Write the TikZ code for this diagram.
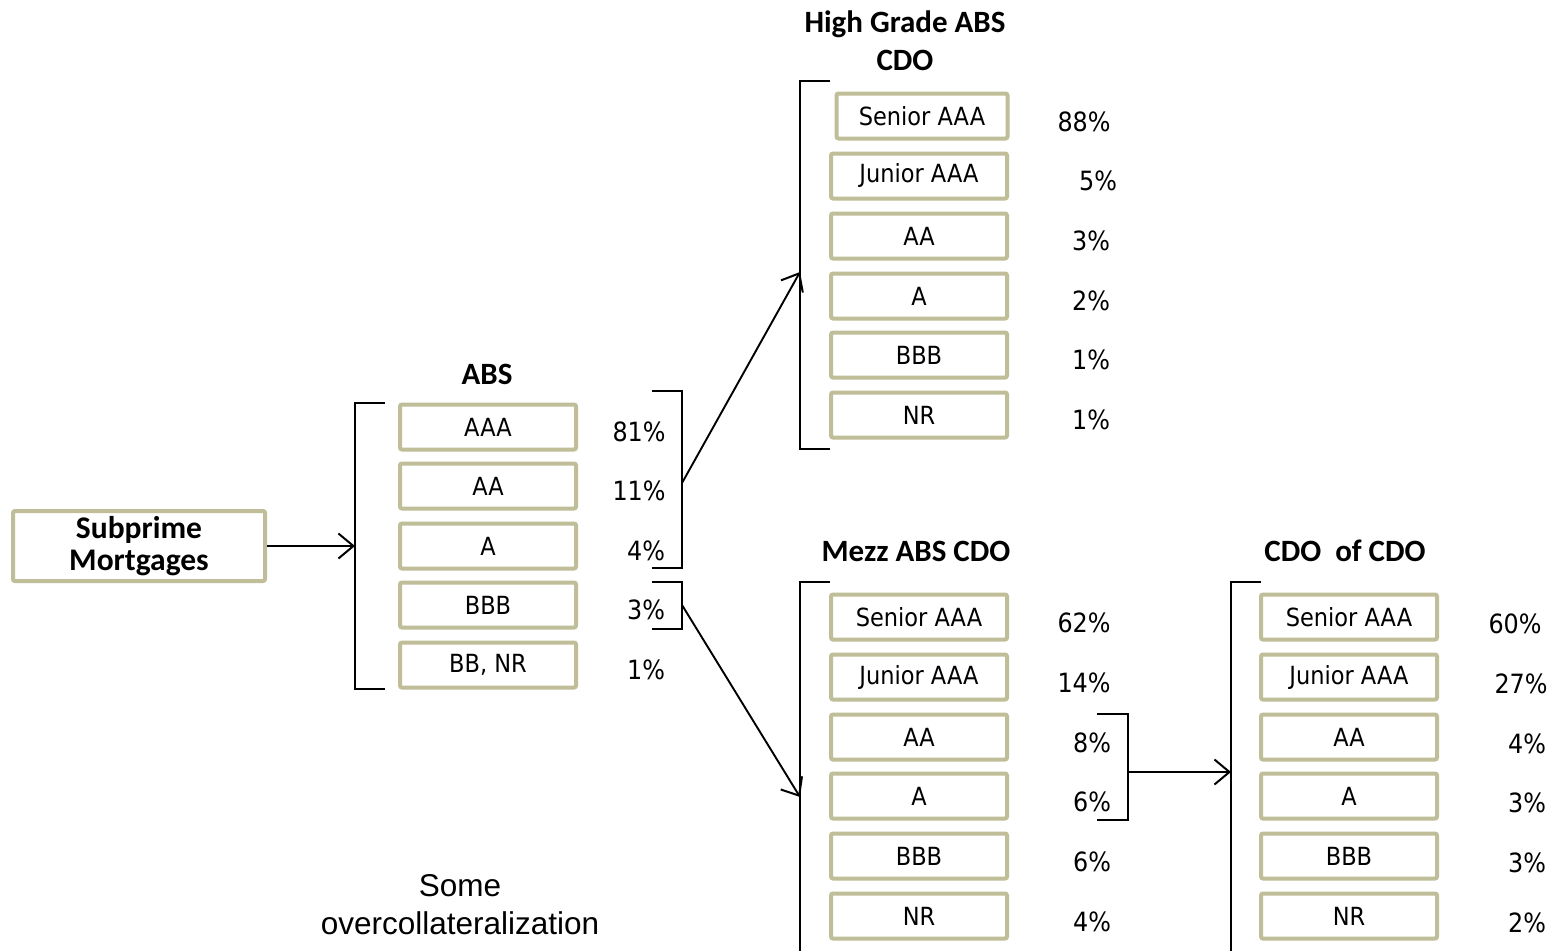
\documentclass[tikz,border=0pt]{standalone}
\usepackage{fontspec}
\setmainfont{DejaVu Sans Condensed}
\newfontfamily\titlefont{Carlito}
\newfontfamily\arialfont{Liberation Sans}
\usetikzlibrary{arrows.meta}
\definecolor{tan}{RGB}{191,190,152}
\tikzset{
 tbox/.style={draw=tan, line width=4pt, rounded corners=2pt, minimum width=176pt, minimum height=45pt, inner sep=0pt, font=\fontsize{25}{30}\selectfont},
 pct/.style={font=\fontsize{26.5}{30}\selectfont, inner sep=0pt},
 ttl/.style={font=\titlefont\bfseries\fontsize{31}{38}\selectfont, align=center, inner sep=0pt},
 brk/.style={line width=1.9pt},
 conn/.style={line width=1.9pt, -{Straight Barb[length=15pt,width=25pt,line width=2pt]}},
}
\begin{document}
\begin{tikzpicture}[x=1pt,y=-1pt]
\useasboundingbox (0,0) rectangle (1552,950);
\fill[white] (0,0) rectangle (1552,950);

% Subprime
\node[tbox, minimum width=252pt, minimum height=70pt, font=\titlefont\bfseries\fontsize{31.5}{32}\selectfont, align=center] (subprime) at (139,546) {Subprime\\Mortgages};

% ABS
\node[ttl] (abstitle) at (487,374) {ABS};
\foreach \i/\y/\t/\p/\px in {1/427/AAA/81\%/639, 2/486/AA/11\%/639, 3/546/A/4\%/646, 4/605/BBB/3\%/646, 5/665/{BB, NR}/1\%/646}{
  \node[tbox] (abs\i) at (488,\y) {\t};
  \node[pct] (abs\i p) at (\px,\y+5) {\p};
}
\draw[brk] (385,403) -- (355,403) -- (355,689) -- (385,689);
\coordinate (absin) at (355,546);
\draw[conn] (subprime.east) -- (absin);

% right brackets of ABS
\draw[brk] (652,391) -- (682,391) -- (682,568) -- (652,568);
\draw[brk] (652,582) -- (682,582) -- (682,629) -- (652,629);
\coordinate (b1) at (682,483);
\coordinate (b2) at (682,605);

% High Grade ABS CDO
\node[ttl] (hgtitle) at (905,41) {High Grade ABS\\CDO};
\node[tbox, minimum width=171pt] (hg1) at (922,116) {Senior AAA};
\node[pct] (hg1p) at (1084,122) {88\%};
\foreach \i/\y/\t/\p/\px in {2/176/Junior AAA/5\%/1098, 3/236/AA/3\%/1091, 4/296/A/2\%/1091, 5/355/BBB/1\%/1091, 6/415/NR/1\%/1091}{
  \node[tbox] (hg\i) at (919,\y) {\t};
  \node[pct] (hg\i p) at (\px,\y+5) {\p};
}
\draw[brk] (830,81) -- (800,81) -- (800,449) -- (830,449);
\coordinate (hgin) at (800,272);
\draw[conn] (b1) -- (hgin);

% Mezz ABS CDO
\node[ttl] (mztitle) at (916,551) {Mezz ABS CDO};
\foreach \i/\y/\t/\p/\px in {1/617/Senior AAA/62\%/1084, 2/677/Junior AAA/14\%/1084, 3/737/AA/8\%/1092, 4/796/A/6\%/1092, 5/856/BBB/6\%/1092, 6/916/NR/4\%/1092}{
  \node[tbox] (mz\i) at (919,\y) {\t};
  \node[pct] (mz\i p) at (\px,\y+6) {\p};
}
\draw[brk] (830,582) -- (800,582) -- (800,952);
\coordinate (mzin) at (800,797);
\draw[conn] (b2) -- (mzin);

% small bracket
\draw[brk] (1097,714) -- (1128,714) -- (1128,820) -- (1097,820);
\coordinate (b3) at (1128,772);

% CDO of CDO
\node[ttl] (cctitle) at (1345,551) {CDO\ \ of CDO};
\foreach \i/\y/\t/\p/\px in {1/617/Senior AAA/60\%/1515, 2/677/Junior AAA/27\%/1521, 3/737/AA/4\%/1527, 4/796/A/3\%/1527, 5/856/BBB/3\%/1527, 6/916/NR/2\%/1527}{
  \node[tbox] (cc\i) at (1349,\y) {\t};
  \node[pct] (cc\i p) at (\px,\y+7) {\p};
}
\draw[brk] (1261,582) -- (1231,582) -- (1231,952);
\coordinate (ccin) at (1231,772);
\draw[conn] (b3) -- (ccin);

% note
\node[font=\arialfont\fontsize{31.5}{38}\selectfont, align=center, inner sep=0pt] (note) at (460,905) {Some\\overcollateralization};
\end{tikzpicture}
\end{document}
